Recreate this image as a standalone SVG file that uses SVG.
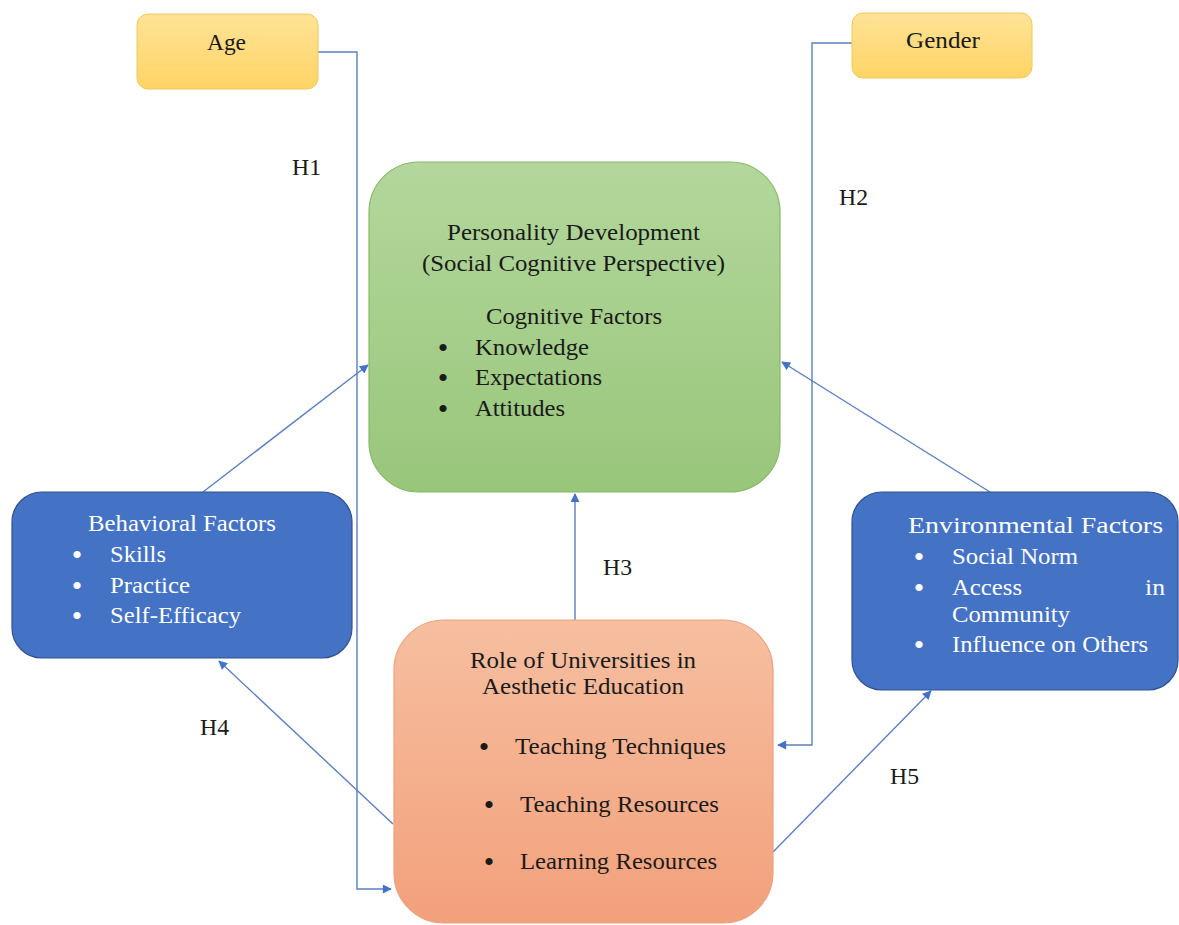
<svg xmlns="http://www.w3.org/2000/svg" width="1179" height="925" viewBox="0 0 1179 925">
<defs>
<linearGradient id="gy" x1="0" y1="0" x2="0" y2="1"><stop offset="0" stop-color="#FFE396"/><stop offset="1" stop-color="#FFD465"/></linearGradient>
<linearGradient id="gg" x1="0" y1="0" x2="0" y2="1"><stop offset="0" stop-color="#B3D79C"/><stop offset="1" stop-color="#98C67A"/></linearGradient>
<linearGradient id="go" x1="0" y1="0" x2="0" y2="1"><stop offset="0" stop-color="#F6BFA0"/><stop offset="1" stop-color="#F3A07B"/></linearGradient>
<marker id="ah" viewBox="0 0 10 10" refX="9" refY="5" markerWidth="11" markerHeight="9" markerUnits="userSpaceOnUse" orient="auto"><path d="M0,0 L10,5 L0,10 z" fill="#4472C4"/></marker>
<style>
text{font-family:'Liberation Serif','Times New Roman',Tinos,'DejaVu Serif',serif;font-size:23px}
.t{fill:#1a1a1a}
.w{fill:#ffffff}
.b{font-size:30px;text-anchor:middle}
.ln{fill:none;stroke:#5B7FC0;stroke-width:1.4}
.blue{fill:#4472C4;stroke:#2F528F;stroke-width:1.2}
</style>
</defs>
<rect width="1179" height="925" fill="#ffffff"/>
<g id="connectors">
<polyline class="ln" points="318,52 357,52 357,889 391,889" marker-end="url(#ah)"/>
<polyline class="ln" points="852,43 812,43 812,745 778,745" marker-end="url(#ah)"/>
<line class="ln" x1="203" y1="492" x2="368" y2="365" marker-end="url(#ah)"/>
<line class="ln" x1="990" y1="492" x2="782" y2="362" marker-end="url(#ah)"/>
<line class="ln" x1="575" y1="620" x2="575" y2="494" marker-end="url(#ah)"/>
<line class="ln" x1="393" y1="824" x2="219" y2="661" marker-end="url(#ah)"/>
<line class="ln" x1="773" y1="852" x2="931" y2="691" marker-end="url(#ah)"/>
<text class="t" x="292" y="175" textLength="29" lengthAdjust="spacingAndGlyphs">H1</text>
<text class="t" x="839" y="205" textLength="29" lengthAdjust="spacingAndGlyphs">H2</text>
<text class="t" x="603" y="575" textLength="29" lengthAdjust="spacingAndGlyphs">H3</text>
<text class="t" x="200" y="735" textLength="29" lengthAdjust="spacingAndGlyphs">H4</text>
<text class="t" x="890" y="784" textLength="29" lengthAdjust="spacingAndGlyphs">H5</text>
</g>
<g id="age">
<rect x="137" y="14" width="181" height="75" rx="11" fill="url(#gy)" stroke="#F2C75C" stroke-width="1"/>
<text class="t" x="207" y="50" textLength="39" lengthAdjust="spacingAndGlyphs">Age</text>
</g>
<g id="gender">
<rect x="852" y="13" width="180" height="65" rx="11" fill="url(#gy)" stroke="#F2C75C" stroke-width="1"/>
<text class="t" x="906" y="48" textLength="74" lengthAdjust="spacingAndGlyphs">Gender</text>
</g>
<g id="personality">
<rect x="369" y="162" width="411" height="330" rx="50" fill="url(#gg)" stroke="#88B86A" stroke-width="1.2"/>
<text class="t" x="447" y="240" textLength="253" lengthAdjust="spacingAndGlyphs">Personality Development</text>
<text class="t" x="422" y="271" textLength="303" lengthAdjust="spacingAndGlyphs">(Social Cognitive Perspective)</text>
<text class="t" x="486" y="324" textLength="176" lengthAdjust="spacingAndGlyphs">Cognitive Factors</text>
<text class="t b" x="443" y="358">•</text><text class="t" x="475" y="355" textLength="114" lengthAdjust="spacingAndGlyphs">Knowledge</text>
<text class="t b" x="443" y="388">•</text><text class="t" x="475" y="385" textLength="127" lengthAdjust="spacingAndGlyphs">Expectations</text>
<text class="t b" x="443" y="419">•</text><text class="t" x="475" y="416" textLength="90" lengthAdjust="spacingAndGlyphs">Attitudes</text>
</g>
<g id="behavioral">
<rect class="blue" x="12" y="492" width="340" height="166" rx="30"/>
<text class="w" x="88" y="531" textLength="188" lengthAdjust="spacingAndGlyphs">Behavioral Factors</text>
<text class="w b" x="77" y="565">•</text><text class="w" x="110" y="562" textLength="56" lengthAdjust="spacingAndGlyphs">Skills</text>
<text class="w b" x="77" y="596">•</text><text class="w" x="110" y="593" textLength="80" lengthAdjust="spacingAndGlyphs">Practice</text>
<text class="w b" x="77" y="626">•</text><text class="w" x="110" y="623" textLength="131" lengthAdjust="spacingAndGlyphs">Self-Efficacy</text>
</g>
<g id="environmental">
<rect class="blue" x="852" y="492" width="326" height="198" rx="30"/>
<text class="w" x="908" y="533" textLength="255" lengthAdjust="spacingAndGlyphs">Environmental Factors</text>
<text class="w b" x="919" y="567">•</text><text class="w" x="952" y="564" textLength="126" lengthAdjust="spacingAndGlyphs">Social Norm</text>
<text class="w b" x="919" y="598">•</text><text class="w" x="952" y="595" textLength="70" lengthAdjust="spacingAndGlyphs">Access</text><text class="w" x="1145" y="595" textLength="20" lengthAdjust="spacingAndGlyphs">in</text>
<text class="w" x="952" y="622" textLength="118" lengthAdjust="spacingAndGlyphs">Community</text>
<text class="w b" x="919" y="655">•</text><text class="w" x="952" y="652" textLength="196" lengthAdjust="spacingAndGlyphs">Influence on Others</text>
</g>
<g id="universities">
<rect x="394" y="620" width="379" height="303" rx="50" fill="url(#go)" stroke="#E9A27E" stroke-width="1.2"/>
<text class="t" x="470" y="668" textLength="226" lengthAdjust="spacingAndGlyphs">Role of Universities in</text>
<text class="t" x="482" y="694" textLength="202" lengthAdjust="spacingAndGlyphs">Aesthetic Education</text>
<text class="t b" x="484" y="757">•</text><text class="t" x="515" y="754" textLength="211" lengthAdjust="spacingAndGlyphs">Teaching Techniques</text>
<text class="t b" x="489" y="815">•</text><text class="t" x="520" y="812" textLength="199" lengthAdjust="spacingAndGlyphs">Teaching Resources</text>
<text class="t b" x="489" y="872">•</text><text class="t" x="520" y="869" textLength="197" lengthAdjust="spacingAndGlyphs">Learning Resources</text>
</g>
</svg>
